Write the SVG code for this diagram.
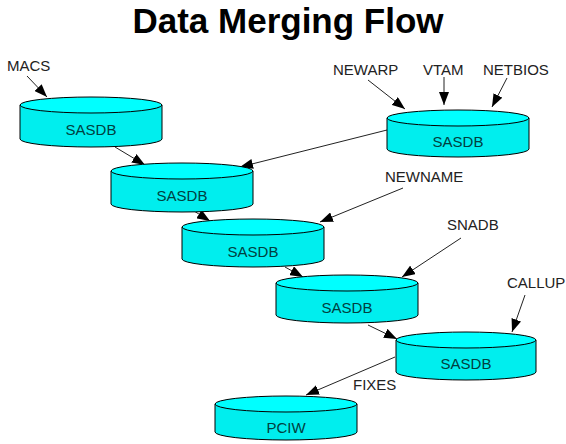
<svg xmlns="http://www.w3.org/2000/svg" width="566" height="444" viewBox="0 0 566 444">
<style>
.side{fill:#00eeee;stroke:#000;stroke-width:1}
.top{fill:#00ffff;stroke:#000;stroke-width:1}
.lbl{font-family:"Liberation Sans",Arial,sans-serif;font-size:15px;fill:#222}
.in{font-family:"Liberation Sans",Arial,sans-serif;font-size:15px;fill:#004040;text-anchor:middle}
.title{font-family:"Liberation Sans",Arial,sans-serif;font-size:35px;font-weight:bold;fill:#000;text-anchor:middle}
.conn line{stroke:#222;stroke-width:1;marker-end:url(#ah)}
</style>
<defs>
<marker id="ah" markerUnits="userSpaceOnUse" markerWidth="14" markerHeight="10" refX="13" refY="5" orient="auto">
<path d="M0,0 L13,5 L0,10 Z" fill="#000"/>
</marker>
</defs>
<rect width="566" height="444" fill="#fff"/>
<text class="title" x="288" y="33">Data Merging Flow</text>

<g id="conns" class="conn">
<line x1="27" y1="76" x2="47" y2="97"/>
<line x1="368" y1="80" x2="405" y2="109"/>
<line x1="444" y1="77" x2="444" y2="105"/>
<line x1="507" y1="78" x2="492" y2="107"/>
<line x1="387" y1="130" x2="240" y2="167"/>
<line x1="115" y1="147" x2="145" y2="165"/>
<line x1="194" y1="211" x2="210" y2="221"/>
<line x1="403" y1="188" x2="320" y2="222"/>
<line x1="285" y1="267" x2="303" y2="277"/>
<line x1="461" y1="238" x2="402" y2="277"/>
<line x1="368" y1="325" x2="397" y2="339"/>
<line x1="525" y1="295" x2="512" y2="332"/>
<line x1="395" y1="357" x2="306" y2="395"/>
</g>

<g id="labels">
<text class="lbl" x="7" y="71">MACS</text>
<text class="lbl" x="333" y="75">NEWARP</text>
<text class="lbl" x="423" y="75">VTAM</text>
<text class="lbl" x="483" y="75">NETBIOS</text>
<text class="lbl" x="385" y="182">NEWNAME</text>
<text class="lbl" x="447" y="230">SNADB</text>
<text class="lbl" x="507" y="288">CALLUP</text>
<text class="lbl" x="353" y="390">FIXES</text>
</g>

<g id="db1">
<path class="side" d="M20,105 V139 A71,8 0 0 0 162,139 V105 Z"/>
<ellipse class="top" cx="91" cy="105" rx="71" ry="8"/>
<text class="in" x="91" y="135">SASDB</text>
</g>
<g id="db-newarp">
<path class="side" d="M387,118 V149 A71,8 0 0 0 529,149 V118 Z"/>
<ellipse class="top" cx="458" cy="118" rx="71" ry="8"/>
<text class="in" x="458" y="147">SASDB</text>
</g>
<g id="db2">
<path class="side" d="M111,171 V204 A71,8 0 0 0 253,204 V171 Z"/>
<ellipse class="top" cx="182" cy="171" rx="71" ry="8"/>
<text class="in" x="182" y="201">SASDB</text>
</g>
<g id="db3">
<path class="side" d="M182,227 V259 A71,8 0 0 0 324,259 V227 Z"/>
<ellipse class="top" cx="253" cy="227" rx="71" ry="8"/>
<text class="in" x="253" y="257">SASDB</text>
</g>
<g id="db4">
<path class="side" d="M276,283 V315 A71,8 0 0 0 418,315 V283 Z"/>
<ellipse class="top" cx="347" cy="283" rx="71" ry="8"/>
<text class="in" x="347" y="313">SASDB</text>
</g>
<g id="db5">
<path class="side" d="M396,340 V372 A70,8 0 0 0 536,372 V340 Z"/>
<ellipse class="top" cx="466" cy="340" rx="70" ry="8"/>
<text class="in" x="466" y="369">SASDB</text>
</g>
<g id="pciw">
<path class="side" d="M215,404 V432 A71,8 0 0 0 357,432 V404 Z"/>
<ellipse class="top" cx="286" cy="404" rx="71" ry="8"/>
<text class="in" x="286" y="433">PCIW</text>
</g>
</svg>
